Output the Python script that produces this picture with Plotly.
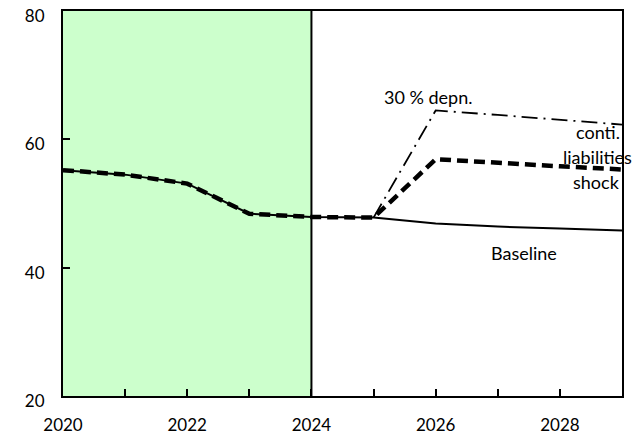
import plotly.graph_objects as go

years = [2020, 2021, 2022, 2023, 2024, 2025, 2026, 2027, 2028, 2029]
baseline = [55.2, 54.5, 53.1, 48.4, 47.9, 47.8, 46.9, 46.4, 46.1, 45.8]
depn_years = [2025, 2026, 2027, 2028, 2029]
depn_30 = [47.8, 64.5, 63.8, 63.0, 62.3]
conti_liab = [55.2, 54.5, 53.1, 48.4, 47.9, 47.8, 56.9, 56.3, 55.8, 55.3]

tick_years = list(range(2020, 2030))
tick_labels = [str(y) if y % 2 == 0 else "" for y in tick_years]

FONT = "Lato"
fig = go.Figure()

fig.add_trace(go.Scatter(x=years, y=baseline, mode="lines",
                         line=dict(color="black", width=2), name="Baseline"))
fig.add_trace(go.Scatter(x=depn_years, y=depn_30, mode="lines",
                         line=dict(color="black", width=1.8, dash="16px,6px,2px,6px"),
                         name="30 % depn."))
fig.add_trace(go.Scatter(x=years, y=conti_liab, mode="lines",
                         line=dict(color="black", width=4.5, dash="11px,6px"),
                         name="conti. liabilities shock"))

fig.add_shape(type="rect", xref="x", yref="paper", x0=2020, x1=2024, y0=0, y1=1,
              fillcolor="#CCFFCC", line=dict(width=0), layer="below")
fig.add_shape(type="line", xref="x", yref="paper", x0=2024, x1=2024, y0=0, y1=1,
              line=dict(color="black", width=2))

ann_font = dict(family=FONT, size=18, color="black")
fig.add_annotation(x=2025.88, y=66.6, text="30 % depn.", showarrow=False, font=ann_font)
fig.add_annotation(x=2029.0, y=61.1, text="conti.", showarrow=False, xanchor="right", font=ann_font)
fig.add_annotation(x=2028.6, y=57.2, text="liabilities", showarrow=False, font=ann_font)
fig.add_annotation(x=2029.0, y=53.3, text="shock", showarrow=False, xanchor="right", font=ann_font)
fig.add_annotation(x=2027.43, y=42.3, text="Baseline", showarrow=False, font=ann_font)

fig.update_layout(
    width=635, height=426,
    margin=dict(l=55, r=21, t=3, b=38, autoexpand=False),
    paper_bgcolor="white", plot_bgcolor="white",
    showlegend=False,
    font=dict(family=FONT, size=17, color="black"),
)
fig.update_xaxes(range=[2020, 2029], tickvals=tick_years, ticktext=tick_labels,
                 ticks="inside", ticklen=7, tickwidth=2, tickcolor="black",
                 showline=True, linecolor="black", linewidth=2, mirror=True,
                 showgrid=False, zeroline=False, ticklabelstandoff=13,
                 automargin=False, ticklabeloverflow="allow")
fig.update_yaxes(range=[20, 80], dtick=20, ticks="inside", ticklen=7, tickwidth=2,
                 tickcolor="black", showline=True, linecolor="black", linewidth=2,
                 mirror=True, showgrid=False, zeroline=False, ticklabelstandoff=13,
                 ticklabelshift=5, automargin=False, ticklabeloverflow="allow")

fig.write_html("out.html")
